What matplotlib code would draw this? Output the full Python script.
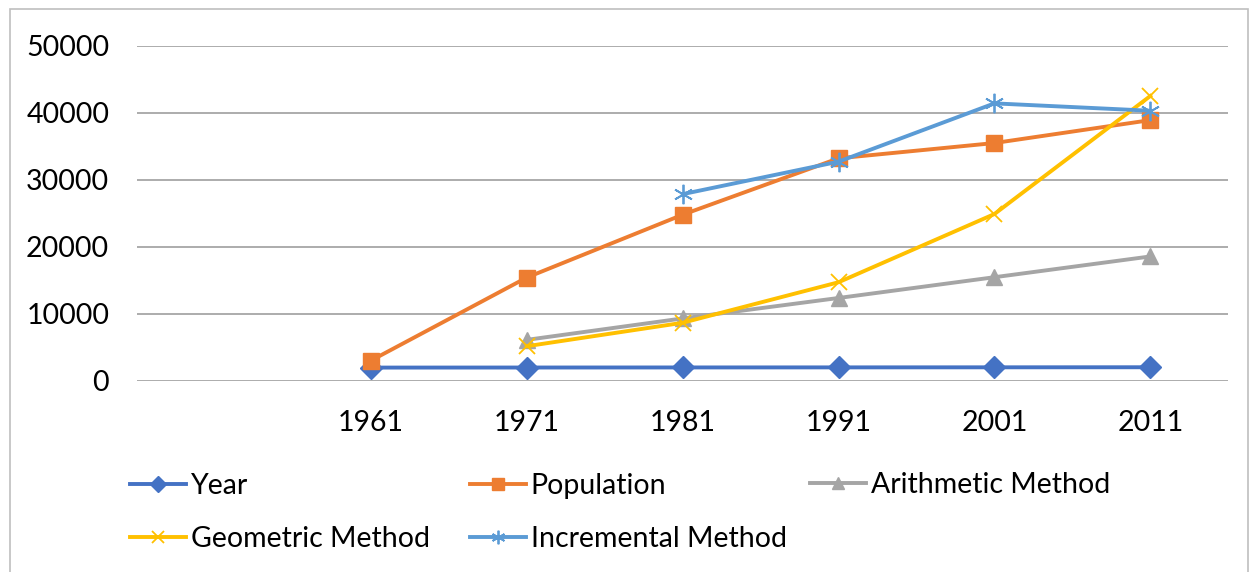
import numpy as np
import matplotlib.pyplot as plt
from matplotlib.patches import Rectangle

# category axis: first slot is blank, as in the original sheet
categories = ["", "1961", "1971", "1981", "1991", "2001", "2011"]

year = [np.nan, 1961, 1971, 1981, 1991, 2001, 2011]
population = [np.nan, 3000, 15400, 24780, 33200, 35480, 38900]
arithmetic = [np.nan, np.nan, 6100, 9300, 12350, 15450, 18550]
geometric = [np.nan, np.nan, 5150, 8650, 14700, 24880, 42500]
incremental = [np.nan, np.nan, np.nan, 27850, 32700, 41400, 40300]

yticks = [0, 10000, 20000, 30000, 40000, 50000]

plt.rcParams['font.family'] = ['Lato', 'DejaVu Sans']
fs = 20.5

fig = plt.figure(figsize=(12.5, 5.72), dpi=100)
ax = fig.add_axes([0.1096, 0.3344, 0.873, 0.5856])

fig.patches.append(Rectangle((0.008, -0.01), 0.99, 0.995, transform=fig.transFigure,
                             fill=False, edgecolor='#BFBFBF', lw=1.2))

x = np.arange(len(categories))
lw = 2.8
h_year, = ax.plot(x, year, color='#4472C4', lw=lw, marker='D', ms=11, label='Year')
h_pop, = ax.plot(x, population, color='#ED7D31', lw=lw, marker='s', ms=12,
                 label='Population')
h_ari, = ax.plot(x, arithmetic, color='#A5A5A5', lw=lw, marker='^', ms=12,
                 label='Arithmetic Method')
h_geo, = ax.plot(x, geometric, color='#FFC000', lw=lw, marker='x', ms=12, mew=1.3,
                 label='Geometric Method')
h_inc, = ax.plot(x, incremental, color='#5B9BD5', lw=lw, marker=(6, 2, 0), ms=14,
                 mew=1.3, label='Incremental Method')

ax.set_xlim(-0.5, len(categories) - 0.5)
ax.set_ylim(0, 50000)
ax.set_xticks(x)
ax.set_xticklabels(categories)
ax.set_yticks(yticks)
ax.tick_params(axis='both', length=0, labelsize=fs)
ax.tick_params(axis='x', pad=21)
ax.tick_params(axis='y', pad=20)
ax.grid(axis='y', color='#A6A6A6', lw=1.3)
ax.set_axisbelow(True)
for s in ax.spines.values():
    s.set_visible(False)

# Excel-style legend: equal-width columns, filled row by row
legend_cols = [([h_year, h_geo], 0.104, 0.1045),
               ([h_pop, h_inc], 0.376, 0.1045),
               ([h_ari], 0.648, 0.152)]
for handles, lx, ly in legend_cols:
    leg = fig.legend(handles=handles, loc='center left', bbox_to_anchor=(lx, ly),
                     frameon=False, fontsize=fs, handlelength=1.95,
                     handletextpad=0.18, labelspacing=0.95, markerscale=0.7,
                     borderpad=0, borderaxespad=0)

fig.savefig('out.png', dpi=100)
